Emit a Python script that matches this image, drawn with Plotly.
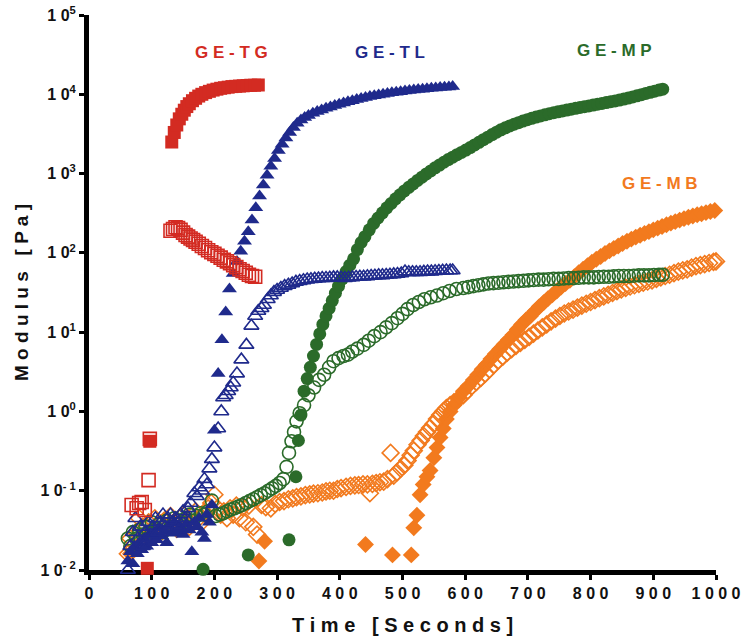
import plotly.graph_objects as go

# ---------------- measured data: time [s] and modulus [Pa] ----------------
# GE-TG
tg_gp_t = [93, 97, 132, 136, 140, 144, 148, 152, 156, 160, 165, 170, 175, 180, 186, 192, 198,
           204, 210, 216, 222, 228, 234, 240, 246, 252, 258, 264, 270]
tg_gp_v = [0.0105, 0.42, 2500, 3300, 4100, 4900, 5600, 6300, 7000, 7600, 8300, 8900, 9500, 10000,
           10500, 10900, 11300, 11600, 11900, 12100, 12300, 12500, 12600, 12700, 12800, 12900,
           13000, 13000, 13100]
tg_gpp_t = [68, 76, 80, 84, 89, 95, 97, 130, 134, 138, 142, 146, 150, 154, 158, 162, 166, 170,
            175, 180, 185, 190, 195, 200, 205, 210, 215, 220, 225, 230, 235, 240, 245, 250, 255,
            260, 265]
tg_gpp_v = [0.066, 0.06, 0.07, 0.072, 0.057, 0.136, 0.45, 190, 200, 210, 205, 195, 180, 168,
            160, 152, 145, 138, 130, 122, 115, 108, 102, 97, 92, 87, 82, 78, 74, 70, 66, 62, 59,
            56, 53, 51, 50]

# GE-TL
tl_gp_t = [62, 66, 70, 73, 77, 80, 84, 88, 92, 96, 100, 104, 108, 112, 116, 120, 124, 128, 132,
           136, 140, 145, 150, 155, 160, 164, 168, 172, 176, 180, 184, 188, 192, 196,
           200, 206, 212, 218, 224, 230, 236, 242, 248, 254, 260, 266, 272, 278, 284, 290, 296,
           302, 308, 314, 320, 326, 332, 338, 344,
           350, 357, 364, 371, 378, 385, 392, 399, 406, 413, 420, 427, 434, 441, 448, 455, 462,
           469, 476, 483, 490, 497, 504, 511, 518, 525, 532, 539, 546, 553, 560, 567, 574, 580]
tl_gp_v = [0.013, 0.017, 0.012, 0.02, 0.016, 0.022, 0.018, 0.025, 0.02, 0.028, 0.022, 0.03,
           0.024, 0.034, 0.027, 0.031, 0.022, 0.036, 0.029, 0.04, 0.03, 0.035, 0.028, 0.038,
           0.032, 0.017, 0.04, 0.035, 0.045, 0.03, 0.025, 0.05, 0.04, 0.066,
           0.58, 3.0, 8, 18, 35, 55, 78, 105, 140, 185, 260, 370, 520, 720, 950, 1240, 1550,
           1950, 2350, 2800, 3300, 3800, 4300, 4750, 5100,
           5400, 5750, 6050, 6350, 6650, 6900, 7200, 7500, 7750, 8050, 8300, 8600, 8850, 9100,
           9350, 9600, 9800, 10000, 10250, 10450, 10600, 10800, 11000, 11150, 11300, 11450,
           11600, 11750, 11900, 12000, 12150, 12250, 12400, 12500]
tl_gpp_t = [62, 66, 70, 74, 78, 82, 86, 90, 94, 98, 102, 106, 110, 114, 118, 122, 126, 130, 134,
            138, 142, 146, 150, 154, 158, 162, 168, 172, 176, 180, 184, 188, 192, 196, 200, 206,
            211, 214, 218, 222, 226, 230, 236, 243, 251, 259, 265, 270, 275, 279, 285, 290, 295,
            300, 306, 312, 318, 324, 330, 336, 342, 348, 354, 360, 366, 372, 378, 384, 390, 396,
            402, 408, 414, 420, 426, 432, 438, 444, 450, 456, 462, 468, 474, 480, 486, 492, 498,
            504, 510, 516, 522, 528, 534, 540, 546, 552, 558, 564, 570, 576, 580]
tl_gpp_v = [0.01, 0.02, 0.03, 0.045, 0.025, 0.035, 0.02, 0.03, 0.04, 0.028, 0.035, 0.045, 0.03,
            0.04, 0.05, 0.035, 0.045, 0.05, 0.04, 0.045, 0.035, 0.05, 0.055, 0.045, 0.06, 0.07,
            0.093, 0.085, 0.11, 0.1, 0.14, 0.12, 0.19, 0.25, 0.35, 0.61, 1.0, 1.5, 1.6, 1.8, 2.0,
            2.3, 3.0, 4.5, 6.9, 12, 16, 18.5, 20, 22, 26, 29, 32,
            34, 36, 38, 39.5, 41, 43, 44, 45, 46, 46.5, 47, 47.5, 48, 48, 48.5, 49, 49, 48.5, 48,
            48.5, 49, 49.5, 50, 50, 50.5, 51, 51.5, 52, 52, 52.5, 53, 53.5, 54, 55, 58, 57, 57,
            57, 57, 57.5, 58, 58, 58.5, 59, 59.5, 60, 60, 60]

# GE-MP
mp_gp_t = [182, 254, 319, 330, 334, 338, 343, 348, 353, 358, 363, 368, 373, 378, 383, 388, 393,
           398, 404, 410, 416, 422, 428, 434, 440, 447, 454, 461, 468, 475, 482, 489, 496, 503,
           510, 517, 524, 531, 538, 545, 552, 559, 566, 573, 580, 587, 594, 601, 608, 615, 622,
           629, 636, 643, 650, 657, 664, 671, 678, 685, 692, 699, 706, 713, 720, 727, 734, 741,
           748, 755, 762, 769, 776, 783, 790, 797, 804, 811, 818, 825, 832, 839, 846, 853, 860,
           867, 874, 881, 888, 895, 902, 909, 915]
mp_gp_v = [0.0102, 0.0155, 0.024, 0.15, 0.43, 0.9, 1.8, 2.6, 3.6, 5.0, 7.0, 9.5, 12.5, 16, 20,
           25, 31, 38, 47, 58, 70, 84, 110, 135, 160, 195, 235, 275, 320, 370, 420, 480, 540,
           605, 670, 740, 820, 900, 990, 1080, 1180, 1280, 1390, 1500, 1610, 1730, 1850, 1980,
           2130, 2300, 2480, 2680, 2880, 3100, 3330, 3560, 3780, 3990, 4190, 4390, 4590, 4790,
           4980, 5160, 5340, 5510, 5680, 5850, 6010, 6170, 6330, 6490, 6650, 6810, 6970, 7140,
           7310, 7490, 7670, 7860, 8050, 8250, 8460, 8700, 8950, 9250, 9550, 9900, 10250, 10600,
           10950, 11300, 11600]
mp_gpp_t = [62, 66, 70, 75, 80, 85, 90, 95, 100, 106, 112, 118, 124, 130, 136, 142, 148, 154,
            160, 166, 172, 178, 184, 190, 196, 202, 208, 214, 220, 226, 232, 238, 244, 250, 256,
            262, 268, 274, 280, 286, 292, 298, 304, 310, 315, 319, 323, 327, 331, 336, 343, 350,
            359, 367, 375, 383, 390, 398, 406, 413, 420, 428, 438, 446, 455, 465, 474, 483, 492,
            500, 508, 517, 526, 535, 545, 555, 565, 575, 586, 597, 605, 613, 621, 629, 637, 645,
            653, 661, 669, 677, 685, 693, 701, 709, 717, 725, 733, 741, 749, 757, 765, 773, 781,
            789, 797, 805, 813, 821, 829, 837, 845, 853, 861, 869, 877, 885, 893, 901, 909, 915]
mp_gpp_v = [0.025, 0.02, 0.03, 0.025, 0.032, 0.028, 0.035, 0.03, 0.04, 0.033, 0.038, 0.03,
            0.042, 0.035, 0.045, 0.038, 0.04, 0.045, 0.05, 0.042, 0.048, 0.052, 0.05, 0.055,
            0.075, 0.048, 0.05, 0.052, 0.055, 0.058, 0.06, 0.063, 0.066, 0.07, 0.074, 0.078,
            0.083, 0.088, 0.093, 0.1, 0.107, 0.115, 0.125, 0.14, 0.2, 0.3, 0.42, 0.55, 0.75,
            0.95, 1.2, 1.6, 2.0, 2.5, 2.9, 3.6, 4.3, 4.7, 5.0, 5.2, 5.7, 6.2, 6.9, 7.8, 8.9, 10,
            11.5, 13, 15, 17, 19.5, 22, 24, 26, 27.5, 29, 31, 33, 35, 36, 37, 38, 39, 40, 41,
            41.5, 42, 42.5, 43, 43.5, 44, 44.5, 45, 45.5, 46, 46, 46.5, 47, 47, 47.5, 48, 48,
            48.5, 49, 49, 49, 49.5, 50, 50, 50.5, 51, 51, 51, 51.5, 52, 52, 52, 52.5, 53, 53]

# GE-MB
mb_gp_t = [66, 271, 280, 441, 484, 514, 518, 523, 528, 533, 539, 544, 550, 555, 560, 565, 570,
           576, 582, 590, 597, 605, 613, 620, 627, 634, 641, 648, 655, 662, 669, 676, 683, 690,
           697, 704, 711, 718, 725, 732, 739, 746, 753, 760, 767, 774, 781, 788, 795, 802, 809,
           816, 823, 830, 837, 844, 851, 858, 865, 872, 879, 886, 893, 900, 907, 914, 921, 928,
           935, 942, 949, 956, 963, 970, 977, 984, 991, 998]
mb_gp_v = [0.016, 0.013, 0.023, 0.021, 0.0155, 0.0155, 0.034, 0.049, 0.089, 0.12, 0.15, 0.18,
           0.26, 0.35, 0.47, 0.61, 0.8, 1.0, 1.2, 1.5, 1.8, 2.1, 2.5, 2.9, 3.4, 3.9, 4.6, 5.3,
           6.1, 7.0, 8.0, 9.2, 10.8, 12.5, 14.2, 16, 18.3, 21, 23.5, 26.5, 29.5, 33, 37, 41, 45,
           50, 56, 62, 69, 76, 83, 90, 98, 106, 114, 122, 131, 140, 149, 158, 167, 176, 185, 195,
           205, 215, 226, 237, 248, 259, 270, 281, 292, 302, 312, 322, 332, 342]
mb_gpp_t = [62, 66, 70, 75, 80, 85, 90, 95, 100, 105, 110, 115, 120, 125, 130, 135, 140, 145,
            150, 155, 160, 165, 170, 175, 180, 185, 190, 195, 200, 205, 210, 215, 220, 225, 230,
            235, 240, 245, 250, 255, 262, 268, 275, 282, 290, 297, 304, 311, 318, 325, 331, 338,
            345, 352, 358, 365, 372, 378, 384, 390, 396, 402, 410, 417, 424, 430, 437, 444, 448,
            452, 458, 464, 470, 476, 481, 486, 491, 497, 503, 508, 513, 518, 524, 529, 534, 539,
            544, 550, 555, 560, 565, 570, 576, 582, 590, 597, 604, 611, 618, 625, 632, 639, 646,
            653, 660, 667, 674, 681, 688, 695, 702, 709, 716, 723, 730, 737, 744, 751, 758, 765,
            772, 779, 786, 793, 800, 807, 814, 821, 828, 835, 842, 849, 856, 863, 870, 877, 884,
            891, 898, 905, 912, 919, 926, 933, 940, 947, 954, 961, 968, 975, 982, 989, 996, 1000]
mb_gpp_v = [0.016, 0.025, 0.02, 0.03, 0.045, 0.035, 0.028, 0.04, 0.032, 0.045, 0.038, 0.03,
            0.042, 0.035, 0.048, 0.04, 0.033, 0.045, 0.05, 0.04, 0.035, 0.048, 0.055, 0.045,
            0.04, 0.052, 0.06, 0.07, 0.089, 0.06, 0.05, 0.055, 0.045, 0.06, 0.05, 0.065, 0.045,
            0.062, 0.04, 0.065, 0.035, 0.028, 0.066, 0.062, 0.06, 0.068, 0.072, 0.074, 0.078,
            0.08, 0.083, 0.085, 0.088, 0.09, 0.092, 0.093, 0.095, 0.098, 0.1, 0.1, 0.105, 0.108,
            0.112, 0.115, 0.117, 0.118, 0.12, 0.12, 0.093, 0.122, 0.125, 0.128, 0.13, 0.14, 0.3,
            0.155, 0.17, 0.19, 0.21, 0.24, 0.28, 0.32, 0.38, 0.43, 0.49, 0.55, 0.62, 0.7, 0.8,
            0.9, 1.0, 1.1, 1.2, 1.3, 1.45, 1.6, 1.85, 2.1, 2.35, 2.65, 3.0, 3.4, 3.9, 4.4, 4.9,
            5.5, 6.1, 6.7, 7.3, 8.0, 8.7, 9.6, 10.5, 11.5, 12.5, 13.7, 14.8, 16, 17.2, 18.2,
            19.2, 20.4, 21.6, 22.8, 24, 25.4, 26.8, 28.2, 29.6, 31.2, 32.8, 34.6, 36.2, 37.6, 39,
            40.5, 42, 43.5, 45, 47, 49, 51, 53, 55.5, 58, 60, 62, 65, 68, 70, 72, 74.5, 77, 78]

# ---------------- styling ----------------
RED = "#D32B22"
BLUE = "#1F2A8C"
GREEN = "#2B6B2A"
ORANGE = "#F27A1E"
FONT = "Liberation Sans, Arial, sans-serif"


def spaced(s):
    return " ".join(s)


fig = go.Figure()


def add(t, v, color, symbol, size, filled):
    fig.add_trace(go.Scatter(
        x=t, y=v, mode="markers", cliponaxis=False, hoverinfo="skip",
        marker=dict(
            symbol=symbol if filled else symbol + "-open",
            size=size,
            color=color,
            line=dict(color=color, width=0 if filled else 1.6),
        ),
    ))


# drawing order: last added ends up on top
add(mb_gp_t, mb_gp_v, ORANGE, "diamond", 13, True)
add(mb_gpp_t, mb_gpp_v, ORANGE, "diamond", 13, False)
add(mp_gp_t, mp_gp_v, GREEN, "circle", 13, True)
add(mp_gpp_t, mp_gpp_v, GREEN, "circle", 13, False)
add(tl_gp_t, tl_gp_v, BLUE, "triangle-up", 13, True)
add(tl_gpp_t, tl_gpp_v, BLUE, "triangle-up", 13, False)
add(tg_gp_t, tg_gp_v, RED, "square", 13, True)
add(tg_gpp_t, tg_gpp_v, RED, "square", 13, False)

x_ticks = list(range(0, 1001, 100))
y_exps = [-2, -1, 0, 1, 2, 3, 4, 5]

fig.update_xaxes(
    range=[0, 1000], showgrid=False, zeroline=False,
    showline=True, linewidth=5, linecolor="black", layer="below traces",
    ticks="outside", ticklen=5, tickwidth=3, tickcolor="black",
    tickvals=x_ticks, ticktext=[spaced(str(v)) for v in x_ticks],
    tickfont=dict(family=FONT, size=16, color="#111", weight="bold"),
    title=dict(text="T i m e   [ S e c o n d s ]",
               font=dict(family=FONT, size=20, color="#111", weight="bold"), standoff=18),
    automargin=False,
)
fig.update_yaxes(
    type="log", range=[-2, 5], showgrid=False, zeroline=False,
    showline=True, linewidth=5, linecolor="black", layer="below traces",
    ticks="outside", ticklen=5, tickwidth=3, tickcolor="black",
    tickvals=[10.0 ** e for e in y_exps],
    ticktext=["1 0<sup>" + (" ".join(str(e)) if e < 0 else str(e)) + "</sup>" for e in y_exps],
    tickfont=dict(family=FONT, size=16, color="#111", weight="bold"),
    title=dict(text="M o d u l u s   [ P a ]",
               font=dict(family=FONT, size=19, color="#111", weight="bold"), standoff=8),
    automargin=False,
)

labels = [("GE-TG", 227, 4.53, RED), ("GE-TL", 480, 4.53, BLUE),
          ("GE-MP", 838, 4.55, GREEN), ("GE-MB", 910, 2.87, ORANGE)]
for text, x, y, c in labels:
    fig.add_annotation(x=x, y=y, xref="x", yref="y", text=spaced(text).replace("-", " - ").replace("  ", " "),
                       showarrow=False,
                       font=dict(family=FONT, size=17, color=c, weight="bold"))

fig.update_layout(
    width=741, height=638,
    margin=dict(l=89, r=25, t=15, b=68),
    paper_bgcolor="white", plot_bgcolor="white",
    showlegend=False,
)

fig.write_html("out.html")
